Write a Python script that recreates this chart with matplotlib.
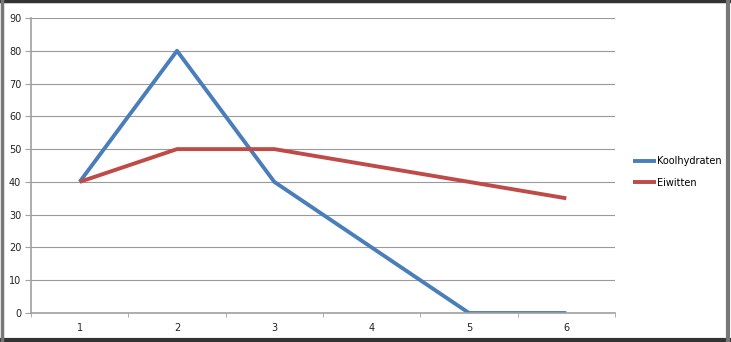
import matplotlib.pyplot as plt
from matplotlib.lines import Line2D

categories = ["1", "2", "3", "4", "5", "6"]
koolhydraten = [40, 80, 40, 20, 0, 0]
eiwitten = [40, 50, 50, 45, 40, 35]
y_ticks = [0, 10, 20, 30, 40, 50, 60, 70, 80, 90]

blue = "#4A7EBB"
red = "#BE4B48"
grid_grey = "#9A9A9A"

fig = plt.figure(figsize=(7.31, 3.42), dpi=100)
ax = fig.add_axes([31 / 731, 29 / 342, 584 / 731, 295 / 342])

x = list(range(1, len(categories) + 1))
ax.plot(x, koolhydraten, color=blue, lw=2.8, label="Koolhydraten", solid_capstyle="butt")
ax.plot(x, eiwitten, color=red, lw=2.8, label="Eiwitten", solid_capstyle="butt")

ax.set_xlim(0.5, len(categories) + 0.5)
ax.set_ylim(0, 90)
ax.set_yticks(y_ticks)
ax.set_xticks(x)
ax.set_xticklabels(categories)
ax.set_xticks([i + 0.5 for i in range(len(categories) + 1)], minor=True)
ax.yaxis.grid(True, color=grid_grey, lw=0.8)
ax.set_axisbelow(True)

for side in ["top", "right"]:
    ax.spines[side].set_visible(False)
for side in ["left", "bottom"]:
    ax.spines[side].set_color("#A0A0A0")
    ax.spines[side].set_linewidth(1.2)

ax.tick_params(axis="y", length=4, color="#A0A0A0", labelsize=7, pad=3,
               labelcolor="#222222")
ax.tick_params(axis="x", which="major", length=0, labelsize=7, pad=7,
               labelcolor="#222222")
ax.tick_params(axis="x", which="minor", length=3, color="#A0A0A0")

ax.legend(loc="center left", bbox_to_anchor=(1.015, 0.478), frameon=False,
          fontsize=7, handlelength=2.4, handletextpad=0.1, labelspacing=1.2)

# dark frame round the whole picture
fig.add_artist(Line2D([0, 1], [0.996, 0.996], transform=fig.transFigure, color="#333333", lw=2.5))
fig.add_artist(Line2D([0, 1], [0.006, 0.006], transform=fig.transFigure, color="#333333", lw=3))
fig.add_artist(Line2D([0.003, 0.003], [0, 1], transform=fig.transFigure, color="#777777", lw=2.5))
fig.add_artist(Line2D([0.996, 0.996], [0, 1], transform=fig.transFigure, color="#777777", lw=3))

fig.savefig("out.png", dpi=100)
